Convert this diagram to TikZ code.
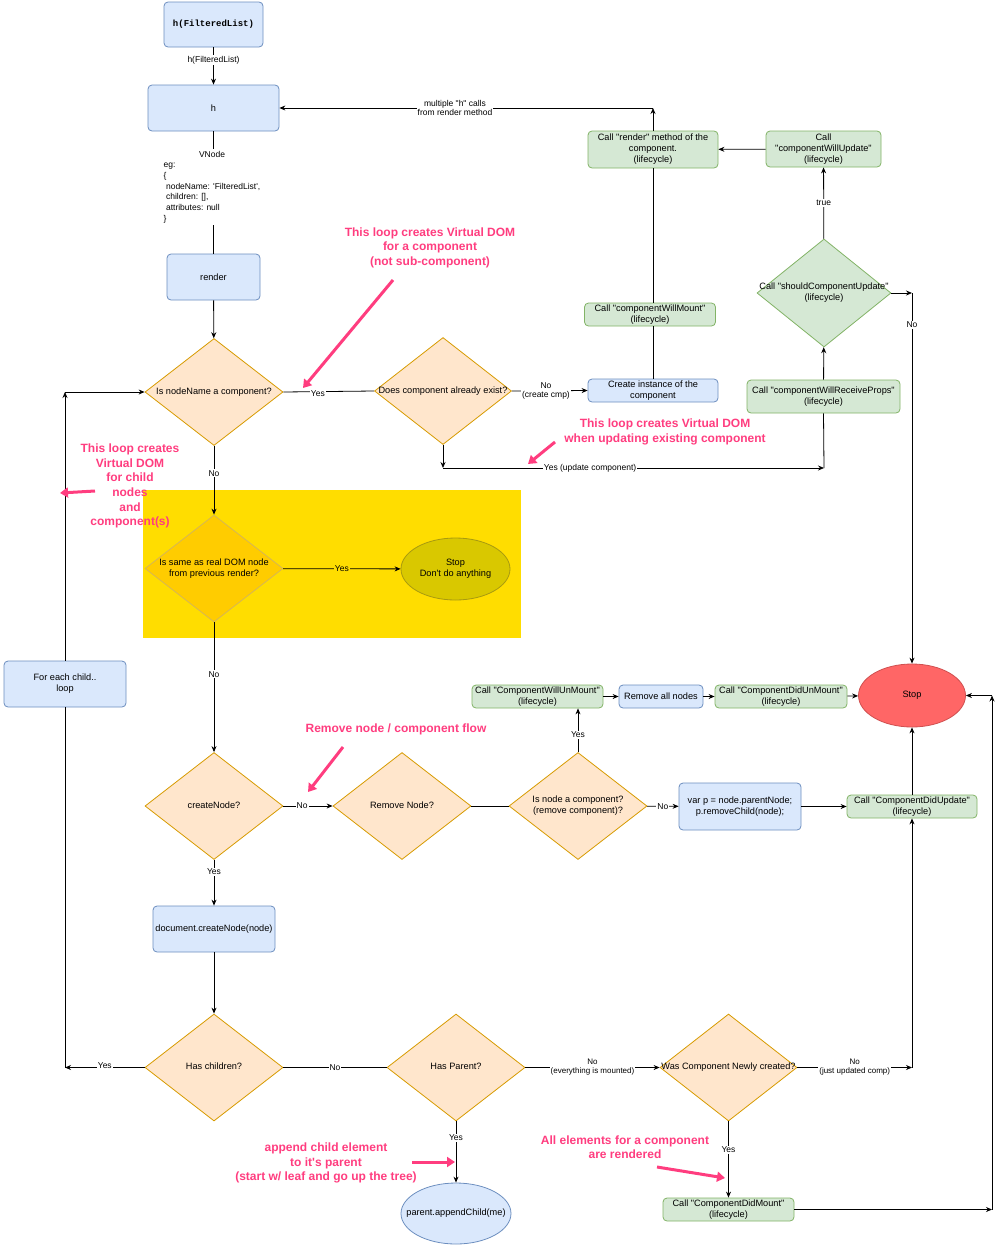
\documentclass[tikz,border=0pt]{standalone}
\usepackage{fontspec}
\newfontfamily\arial{Liberation Sans}
\newfontfamily\monof{Liberation Mono}
\usetikzlibrary{shapes.geometric,arrows.meta}
\definecolor{blueF}{HTML}{DAE8FC}
\definecolor{blueD}{HTML}{6C8EBF}
\definecolor{greenF}{HTML}{D5E8D4}
\definecolor{greenD}{HTML}{82B366}
\definecolor{orangeF}{HTML}{FFE6CC}
\definecolor{orangeD}{HTML}{D79B00}
\definecolor{yellowbg}{HTML}{FFDD00}
\definecolor{yelDia}{HTML}{FFCC00}
\definecolor{yelDiaD}{HTML}{D6B656}
\definecolor{olive}{HTML}{D9C800}
\definecolor{oliveD}{HTML}{A89A10}
\definecolor{redF}{HTML}{FF6666}
\definecolor{redD}{HTML}{D05050}
\definecolor{pinkc}{HTML}{FF3D7F}
\newcommand\zw[1]{\makebox[0pt]{\begin{tabular}{@{}c@{}}#1\end{tabular}}}
\tikzset{
  txt/.style={font=\arial\fontsize{9.2}{11}\selectfont, align=center},
  boxbase/.style={txt, draw, line width=0.8pt, rounded corners=4pt, inner sep=1pt},
  bbox/.style={boxbase, fill=blueF, draw=blueD},
  gbox/.style={boxbase, fill=greenF, draw=greenD},
  dia/.style={txt, diamond, draw=orangeD, fill=orangeF, line width=0.8pt, inner sep=1pt, minimum width=138pt, minimum height=107pt},
  gdia/.style={dia, draw=greenD, fill=greenF},
  ydia/.style={dia, draw=yelDiaD, fill=yelDia},
  stopn/.style={txt, ellipse, draw=redD, fill=redF, line width=0.8pt, inner sep=0pt},
  yell/.style={txt, ellipse, draw=oliveD, fill=olive, line width=0.8pt, inner sep=0pt},
  bell/.style={txt, ellipse, draw=blueD, fill=blueF, line width=0.8pt, inner sep=0pt},
  arr/.style={-{Stealth[length=6pt,width=5pt]}},
  ln/.style={line width=0.8pt, black},
  elab/.style={font=\arial\fontsize{8.5}{9.5}\selectfont, align=center, fill=white, inner sep=1pt},
  ann/.style={font=\arial\bfseries\fontsize{12}{14.6}\selectfont, text=pinkc, align=center},
  pinkarr/.style={line width=3pt, pinkc, -{Triangle[length=8pt,width=10pt]}}
}
\begin{document}
\begin{tikzpicture}[x=1pt,y=-1pt]
\useasboundingbox (0,0) rectangle (1000,1245);
% yellow zone
\node[fill=yellowbg, minimum width=378pt, minimum height=148pt, inner sep=0pt] (zone) at (332,564) {};

% nodes
\node[bbox, minimum width=99pt, minimum height=45pt, font=\monof\bfseries\fontsize{9}{11}\selectfont] (hfl) at (213.5,24.5) {h(FilteredList)};
\node[bbox, minimum width=131pt, minimum height=46pt] (h) at (213.5,108) {h};
\node[bbox, minimum width=93pt, minimum height=46pt] (render) at (213.5,277) {render};
\node[dia] (d1) at (214,392) {\zw{Is nodeName a component?}};
\node[dia, minimum width=137pt] (d2) at (443,391) {\zw{Does component already exist?}};
\node[bbox, minimum width=130pt, minimum height=23pt] (inst) at (653,390.5) {Create instance of the\\component};
\node[gbox, minimum width=131pt, minimum height=23pt] (cwm) at (650,314.5) {Call "componentWillMount"\\(lifecycle)};
\node[gbox, minimum width=130pt, minimum height=37pt] (rm) at (653,149.5) {Call "render" method of the\\component.\\(lifecycle)};
\node[gbox, minimum width=115pt, minimum height=36pt] (cwu) at (823.5,149) {Call\\"componentWillUpdate"\\(lifecycle)};
\node[gdia, minimum width=134pt, minimum height=108pt] (scu) at (824,293) {\zw{Call "shouldComponentUpdate"\\(lifecycle)}};
\node[gbox, minimum width=153pt, minimum height=33pt] (cwrp) at (823.5,396.5) {Call "componentWillReceiveProps"\\(lifecycle)};
\node[stopn, minimum width=107pt, minimum height=63pt] (stop) at (912,695.5) {Stop};

\node[ydia] (d3) at (214,568.5) {\zw{Is same as real DOM node\\from previous render?}};
\node[yell, minimum width=109pt, minimum height=62pt] (nop) at (455.5,569) {\zw{Stop\\Don't do anything}};

\node[dia] (cn) at (214,806) {\zw{createNode?}};
\node[dia] (rn) at (402,806) {\zw{Remove Node?}};
\node[dia] (inc) at (578,806) {\zw{Is node a component?\\(remove component)?}};
\node[bbox, minimum width=122pt, minimum height=47pt] (varp) at (740,806.5) {var p = node.parentNode;\\p.removeChild(node);};
\node[gbox, minimum width=130pt, minimum height=23pt] (cdu) at (912,806.5) {Call "ComponentDidUpdate"\\(lifecycle)};
\node[gbox, minimum width=131pt, minimum height=23pt] (cwum) at (537.5,696.5) {Call "ComponentWillUnMount"\\(lifecycle)};
\node[bbox, minimum width=84pt, minimum height=23pt] (ran) at (661,696.5) {Remove all nodes};
\node[gbox, minimum width=132pt, minimum height=23pt] (cdum) at (781,696.5) {Call "ComponentDidUnMount"\\(lifecycle)};
\node[bbox, minimum width=122pt, minimum height=46pt] (dcn) at (214,929) {document.createNode(node)};
\node[dia] (hc) at (214,1067.5) {\zw{Has children?}};
\node[dia] (hp) at (456,1067.5) {\zw{Has Parent?}};
\node[dia, minimum width=137pt] (wc) at (728.5,1067.5) {\zw{Was Component Newly created?}};
\node[bell, minimum width=110pt, minimum height=61pt] (app) at (456,1213.5) {\zw{parent.appendChild(me)}};
\node[gbox, minimum width=131pt, minimum height=23pt] (cdm) at (728.5,1209.5) {Call "ComponentDidMount"\\(lifecycle)};
\node[bbox, minimum width=122pt, minimum height=46pt] (fe) at (65,684) {For each child..\\loop};

% waypoints
\coordinate (c1) at (653,108);
\coordinate (c2) at (443,468);
\coordinate (c3) at (824,468);
\coordinate (c4) at (912,293);
\coordinate (c5) at (65,1067.5);
\coordinate (c6) at (65,392);
\coordinate (c7) at (912,1067.5);
\coordinate (c8) at (992,1209.5);
\coordinate (c9) at (992,695.5);

% connectors
\begin{scope}[ln]
\draw[arr] (hfl) -- node[elab, pos=0.35]{h(FilteredList)} (h);
\draw (h) -- (render);
\node[elab, font=\arial\fontsize{8.5}{10.7}\selectfont] (vn) at (212,187) {\begin{tabular}{@{}l@{}}\multicolumn{1}{@{}c@{}}{VNode}\\eg:\\\{\\\ nodeName: 'FilteredList',\\\ children: [],\\\ attributes: null\\\}\end{tabular}};
\draw[arr] (render) -- (d1);
\draw (d1.east) -- node[elab, pos=0.38, yshift=-2pt]{Yes} (d2.west);
\draw[arr] (d2.east) -- node[elab, pos=0.45]{No\\(create cmp)} (inst.west);
\draw (inst.north) -- (inst.north |- cwm.south);
\draw (inst.north |- cwm.north) -- (rm.south);
\draw[arr] (rm.north) -- (c1);
\draw[arr] (c1) -- node[elab, pos=0.53]{multiple "h" calls\\from render method} (h.east);
\draw[arr] (cwu) -- (rm);
\draw[arr] (scu) -- node[elab]{true} (cwu);
\draw[arr] (cwrp) -- (scu);
\draw[arr] (d2.south) -- (c2);
\draw[arr] (c2) -- node[elab, pos=0.386]{Yes (update component)} (c3);
\draw (c3) -- (cwrp.south);
\draw[arr] (scu.east) -- (c4);
\draw[arr] (c4) -- node[elab, pos=0.086]{No} (stop.north);
\draw[arr] (d1) -- node[elab, pos=0.4]{No} (d3);
\draw[arr] (d3) -- node[elab, fill=yellowbg]{Yes} (nop);
\draw[arr] (d3) -- node[elab, pos=0.4]{No} (cn);
\draw[arr] (cn) -- node[elab, pos=0.38]{No} (rn);
\draw (rn) -- (inc);
\draw[arr] (inc) -- node[elab]{No} (varp);
\draw[arr] (varp) -- (cdu);
\draw[arr] (cdu) -- (stop);
\draw[arr] (inc.north) -- node[elab, pos=0.4]{Yes} (inc.north |- cwum.south);
\draw[arr] (cwum) -- (ran);
\draw[arr] (ran) -- (cdum);
\draw[arr] (cdum) -- (stop);
\draw[arr] (cn) -- node[elab, pos=0.26]{Yes} (dcn);
\draw[arr] (dcn) -- (hc);
\draw[arr] (hc.west) -- node[elab, yshift=2pt]{Yes} (c5);
\draw (c5) -- (fe.south);
\draw[arr] (fe.north) -- (c6);
\draw[arr] (c6) -- (d1.west);
\draw (hc) -- node[elab]{No} (hp);
\draw[arr] (hp) -- node[elab, pos=0.27]{Yes} (app);
\draw[arr] (hp) -- node[elab, font=\arial\fontsize{8}{9}\selectfont]{No\\(everything is mounted)} (wc);
\draw[arr] (wc.east) -- node[elab, font=\arial\fontsize{8}{9}\selectfont]{No\\(just updated comp)} (c7);
\draw[arr] (c7) -- (cdu.south);
\draw[arr] (wc) -- node[elab, pos=0.37]{Yes} (cdm);
\draw[arr] (cdm) -- (c8);
\draw[arr] (c8) -- (c9);
\draw[arr] (c9) -- (stop.east);
\end{scope}

% annotations
\node[ann] (a1) at (430,247.5) {This loop creates Virtual DOM\\for a component\\(not sub-component)};
\node[ann] (a2) at (665,432) {This loop creates Virtual DOM\\when updating existing component};
\node[ann] (a3) at (130,486) {This loop creates\\Virtual DOM\\for child\\nodes\\and\\component(s)};
\node[ann] (a4) at (396,729) {Remove node / component flow};
\node[ann] (a5) at (326,1163) {append child element\\to it's parent\\(start w/ leaf and go up the tree)};
\node[ann] (a6) at (625,1147) {All elements for a component\\are rendered};

\coordinate (p1s) at (393,280); \coordinate (p1e) at (303,388);
\coordinate (p2s) at (555,442); \coordinate (p2e) at (528,464);
\coordinate (p3s) at (95,491);  \coordinate (p3e) at (60,493);
\coordinate (p4s) at (343,747); \coordinate (p4e) at (308,792);
\coordinate (p5s) at (412,1162); \coordinate (p5e) at (455,1162);
\coordinate (p6s) at (657,1167); \coordinate (p6e) at (725,1178);
\draw[pinkarr] (p1s) -- (p1e);
\draw[pinkarr] (p2s) -- (p2e);
\draw[pinkarr] (p3s) -- (p3e);
\draw[pinkarr] (p4s) -- (p4e);
\draw[pinkarr] (p5s) -- (p5e);
\draw[pinkarr] (p6s) -- (p6e);
\end{tikzpicture}
\end{document}
